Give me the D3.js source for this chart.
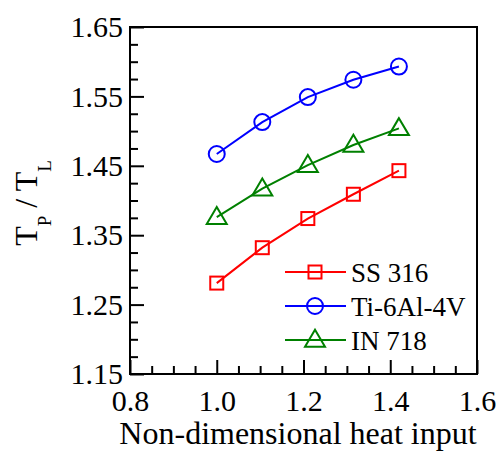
<!DOCTYPE html>
<html>
<head>
<meta charset="utf-8">
<script src="https://cdn.jsdelivr.net/npm/d3@7/dist/d3.min.js"></script>
<style>
  html, body { margin: 0; padding: 0; background: #fff; }
  svg, svg text { font-family: "Liberation Serif", "Times New Roman", serif; }
  svg { display: block; }
</style>
</head>
<body>
<svg id="chart" width="497" height="453"></svg>
<script>
// ---- data ----
const xValues = [1.0, 1.105, 1.21, 1.315, 1.42];
const ss316 = [1.281, 1.332, 1.374, 1.409, 1.443];
const ti6al4v = [1.467, 1.513, 1.549, 1.574, 1.593];
const in718 = [1.376, 1.417, 1.451, 1.480, 1.504];
const seriesNames = ["SS 316", "Ti-6Al-4V", "IN 718"];
const seriesColors = ["#ff0000", "#0000ff", "#008000"];
const seriesMarkers = ["square", "circle", "triangle"];
const xTicks = [0.8, 1.0, 1.2, 1.4, 1.6];
const yTicks = [1.15, 1.25, 1.35, 1.45, 1.55, 1.65];
const xLabel = "Non-dimensional heat input";

const series = [ss316, ti6al4v, in718].map((vals, i) => ({
  name: seriesNames[i], color: seriesColors[i], marker: seriesMarkers[i],
  points: xValues.map((x, j) => ({ x, y: vals[j] }))
}));

// ---- layout ----
const svg = d3.select("#chart");
const L = 130, R = 477, T = 27, B = 374;
const x = d3.scaleLinear().domain([0.8, 1.6]).range([L, R]);
const y = d3.scaleLinear().domain([1.15, 1.65]).range([B, T]);

const majorLen = 14, minorLen = 8;
const serif = "Liberation Serif, Times New Roman, serif";
const tickFont = 30;

// minor ticks
const xMinor = d3.range(0.8, 1.6001, 0.05).filter(v => !xTicks.some(t => Math.abs(t - v) < 1e-6));
const yMinor = d3.range(1.15, 1.6501, 0.025).filter(v => !yTicks.some(t => Math.abs(t - v) < 1e-6));

// x axis (bottom, ticks inward)
const xAxis = d3.axisBottom(x).tickValues(xTicks).tickFormat(d3.format(".1f")).tickSize(-majorLen).tickPadding(16);
const gx = svg.append("g").attr("transform", `translate(0,${B})`).call(xAxis).attr("font-family", serif);
gx.select(".domain").remove();
gx.selectAll(".tick line").attr("stroke", "#000").attr("stroke-width", 2);
gx.selectAll(".tick text").attr("font-size", tickFont).attr("fill", "#000").style("font-family", serif);
const gxm = svg.append("g").attr("transform", `translate(0,${B})`)
  .call(d3.axisBottom(x).tickValues(xMinor).tickSize(-minorLen).tickFormat(""));
gxm.select(".domain").remove();
gxm.selectAll(".tick line").attr("stroke", "#000").attr("stroke-width", 2);

// y axis (left, ticks inward)
const yAxis = d3.axisLeft(y).tickValues(yTicks).tickFormat(d3.format(".2f")).tickSize(-majorLen).tickPadding(7);
const gy = svg.append("g").attr("transform", `translate(${L},0)`).call(yAxis).attr("font-family", serif);
gy.select(".domain").remove();
gy.selectAll(".tick line").attr("stroke", "#000").attr("stroke-width", 2);
gy.selectAll(".tick text").attr("font-size", tickFont).attr("fill", "#000").style("font-family", serif);
const gym = svg.append("g").attr("transform", `translate(${L},0)`)
  .call(d3.axisLeft(y).tickValues(yMinor).tickSize(-minorLen).tickFormat(""));
gym.select(".domain").remove();
gym.selectAll(".tick line").attr("stroke", "#000").attr("stroke-width", 2);

// frame
svg.append("rect").attr("x", L).attr("y", T).attr("width", R - L).attr("height", B - T)
  .attr("fill", "none").attr("stroke", "#000").attr("stroke-width", 2);

// ---- marker drawing ----
function drawMarker(g, type, cx, cy, color) {
  if (type === "square") {
    const s = 13;
    g.append("rect").attr("x", cx - s / 2).attr("y", cy - s / 2).attr("width", s).attr("height", s)
      .attr("fill", "none").attr("stroke", color).attr("stroke-width", 2);
  } else if (type === "circle") {
    g.append("circle").attr("cx", cx).attr("cy", cy).attr("r", 8)
      .attr("fill", "none").attr("stroke", color).attr("stroke-width", 2);
  } else {
    const w = 20, h = 17;
    const pts = [[cx, cy - h * 0.6], [cx - w / 2, cy + h * 0.4], [cx + w / 2, cy + h * 0.4]];
    g.append("polygon").attr("points", pts.map(p => p.join(",")).join(" "))
      .attr("fill", "none").attr("stroke", color).attr("stroke-width", 2);
  }
}

// ---- series ----
const line = d3.line().x(d => x(d.x)).y(d => y(d.y));
series.forEach(s => {
  const g = svg.append("g");
  g.append("path").datum(s.points).attr("d", line)
    .attr("fill", "none").attr("stroke", s.color).attr("stroke-width", 2);
  s.points.forEach(p => drawMarker(g, s.marker, x(p.x), y(p.y), s.color));
});

// ---- legend ----
const legendRows = [272, 306, 340];
series.forEach((s, i) => {
  const g = svg.append("g");
  const ly = legendRows[i];
  g.append("line").attr("x1", 285).attr("x2", 346).attr("y1", ly).attr("y2", ly)
    .attr("stroke", s.color).attr("stroke-width", 2);
  drawMarker(g, s.marker, 315, ly, s.color);
  g.append("text").attr("x", 351).attr("y", ly + 10).attr("font-size", 27).attr("fill", "#000")
    .style("font-family", serif).text(s.name);
});

// ---- axis labels ----
svg.append("text").attr("x", (119 + 477) / 2).attr("y", 444).attr("text-anchor", "middle")
  .attr("font-size", 32).attr("fill", "#000").style("font-family", serif).text(xLabel);

const yl = svg.append("text").attr("transform", "translate(37,203) rotate(-90)")
  .attr("text-anchor", "middle").attr("font-size", 32).attr("fill", "#000").style("font-family", serif);
yl.append("tspan").text("T");
yl.append("tspan").attr("font-size", 19).attr("dy", 14).text("P");
yl.append("tspan").attr("dy", -14).text(" / T");
yl.append("tspan").attr("font-size", 19).attr("dy", 14).text("L");
</script>
</body>
</html>
